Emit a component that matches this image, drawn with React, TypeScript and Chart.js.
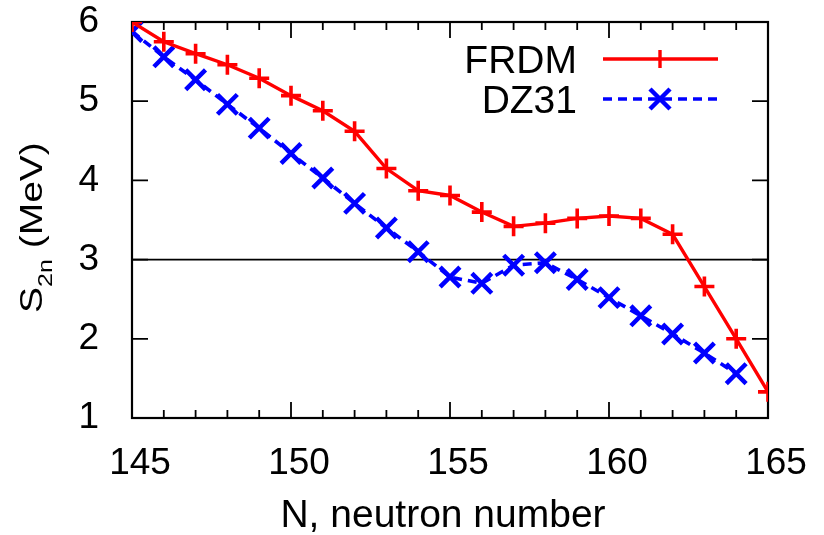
import React, { useEffect, useRef } from "react";
import { Chart, registerables } from "chart.js";

Chart.register(...registerables);

// ---- data ----
const neutronNumbers = [145, 146, 147, 148, 149, 150, 151, 152, 153, 154, 155, 156, 157, 158, 159, 160, 161, 162, 163, 164, 165];
const frdmValues = [6.0, 5.75, 5.6, 5.46, 5.29, 5.07, 4.88, 4.62, 4.15, 3.87, 3.81, 3.6, 3.42, 3.46, 3.52, 3.55, 3.52, 3.32, 2.66, 2.0, 1.33];
const dz31Values = [5.88, 5.56, 5.27, 4.96, 4.66, 4.34, 4.03, 3.71, 3.4, 3.1, 2.78, 2.7, 2.93, 2.96, 2.75, 2.52, 2.29, 2.06, 1.82, 1.56];
const seriesLabels = ["FRDM", "DZ31"];
const xTickValues = [145, 150, 155, 160, 165];
const yTickValues = [1, 2, 3, 4, 5, 6];
const referenceLevel = 3;
const xTitle = "N, neutron number";
const yTitleMain = "S";
const yTitleSub = "2n";
const yTitleRest = " (MeV)";

const FONT = "'Liberation Sans', Arial, Helvetica, sans-serif";
const RED = "#ff0000";
const BLUE = "#0000ff";

const framePlugin = {
  id: "framePlugin",
  beforeDatasetsDraw(chart: any) {
    const { ctx, chartArea } = chart;
    const xs = chart.scales.x;
    const ys = chart.scales.y;
    const { left, right, top, bottom } = chartArea;
    ctx.save();
    // reference line
    const yRef = ys.getPixelForValue(referenceLevel);
    ctx.strokeStyle = "#000";
    ctx.lineWidth = 1.6;
    ctx.beginPath();
    ctx.moveTo(left, yRef);
    ctx.lineTo(right, yRef);
    ctx.stroke();
    // frame
    ctx.lineWidth = 2.2;
    ctx.strokeRect(left, top, right - left, bottom - top);
    // x ticks (major every 5, minor every 1), on bottom and top
    ctx.lineWidth = 1.8;
    const xmin = xs.min, xmax = xs.max;
    for (let v = xmin; v <= xmax; v++) {
      const px = xs.getPixelForValue(v);
      const len = xTickValues.includes(v) ? 16 : 8;
      ctx.beginPath();
      ctx.moveTo(px, bottom);
      ctx.lineTo(px, bottom - len);
      ctx.moveTo(px, top);
      ctx.lineTo(px, top + len);
      ctx.stroke();
    }
    for (const v of yTickValues) {
      const py = ys.getPixelForValue(v);
      ctx.beginPath();
      ctx.moveTo(left, py);
      ctx.lineTo(left + 16, py);
      ctx.moveTo(right, py);
      ctx.lineTo(right - 16, py);
      ctx.stroke();
    }
    ctx.restore();
  },
  afterDraw(chart: any) {
    const { ctx, chartArea } = chart;
    ctx.save();
    ctx.fillStyle = "#000";
    // x title
    ctx.font = `39px ${FONT}`;
    ctx.textAlign = "center";
    ctx.textBaseline = "alphabetic";
    ctx.fillText(xTitle, (chartArea.left + chartArea.right) / 2 - 7, 527);
    // y title (rotated, with subscript)
    ctx.translate(42, 313);
    ctx.rotate(-Math.PI / 2);
    ctx.scale(1, 0.8);
    ctx.textAlign = "left";
    ctx.font = `39px ${FONT}`;
    ctx.fillText(yTitleMain, 0, 0);
    let x = ctx.measureText(yTitleMain).width;
    ctx.font = `25px ${FONT}`;
    ctx.fillText(yTitleSub, x, 12);
    x += ctx.measureText(yTitleSub).width;
    ctx.font = `39px ${FONT}`;
    ctx.fillText(yTitleRest, x, 0);
    ctx.restore();

    // legend
    ctx.save();
    ctx.font = `39px ${FONT}`;
    ctx.textAlign = "right";
    ctx.textBaseline = "alphabetic";
    ctx.fillStyle = "#000";
    const textRight = 577;
    const lineL = 603, lineR = 718, mark = 660;
    // FRDM
    ctx.fillText(seriesLabels[0], textRight, 73);
    ctx.strokeStyle = RED;
    ctx.lineWidth = 3.4;
    ctx.beginPath();
    ctx.moveTo(lineL, 59);
    ctx.lineTo(lineR, 59);
    ctx.moveTo(mark, 50);
    ctx.lineTo(mark, 68);
    ctx.stroke();
    // DZ31
    ctx.fillText(seriesLabels[1], textRight, 113);
    ctx.strokeStyle = BLUE;
    ctx.lineWidth = 3.6;
    ctx.setLineDash([9, 6]);
    ctx.beginPath();
    ctx.moveTo(lineL, 99);
    ctx.lineTo(lineR, 99);
    ctx.stroke();
    ctx.setLineDash([]);
    ctx.lineWidth = 4.5;
    ctx.beginPath();
    ctx.moveTo(mark - 10, 89);
    ctx.lineTo(mark + 10, 109);
    ctx.moveTo(mark + 10, 89);
    ctx.lineTo(mark - 10, 109);
    ctx.stroke();
    ctx.restore();
  },
};

export default function App() {
  const canvasRef = useRef<HTMLCanvasElement | null>(null);

  useEffect(() => {
    if (!canvasRef.current) return;
    const frdmData = neutronNumbers.map((n, i) => ({ x: n, y: frdmValues[i] }));
    const dzData = dz31Values.map((v, i) => ({ x: neutronNumbers[i], y: v }));
    const chart = new Chart(canvasRef.current, {
      type: "line",
      data: {
        datasets: [
          {
            label: seriesLabels[0],
            data: frdmData,
            borderColor: RED,
            backgroundColor: RED,
            borderWidth: 3.4,
            pointStyle: "cross",
            pointRadius: 10,
            pointBorderWidth: 3.6,
            pointBorderColor: RED,
            tension: 0,
            fill: false,
          },
          {
            label: seriesLabels[1],
            data: dzData,
            borderColor: BLUE,
            backgroundColor: BLUE,
            borderWidth: 3.6,
            borderDash: [9, 6],
            pointStyle: "crossRot",
            pointRadius: 14,
            pointBorderWidth: 4.5,
            pointBorderColor: BLUE,
            tension: 0,
            fill: false,
          },
        ],
      },
      options: {
        animation: false,
        responsive: false,
        devicePixelRatio: 1,
        layout: { padding: { top: 0, right: 56, bottom: 0, left: 0 } },
        plugins: {
          legend: { display: false },
          tooltip: { enabled: false },
          title: { display: false },
        },
        scales: {
          x: {
            type: "linear",
            min: 145,
            max: 165,
            grid: { display: false },
            border: { display: false },
            afterFit: (s: any) => {
              s.height = 117;
              s.paddingLeft = 0;
              s.paddingRight = 0;
            },
            afterBuildTicks: (s: any) => {
              s.ticks = xTickValues.map((v) => ({ value: v }));
            },
            ticks: {
              font: { family: FONT, size: 37 },
              color: "#000",
              padding: 16,
              labelOffset: 8,
              maxRotation: 0,
              autoSkip: false,
            },
          },
          y: {
            type: "linear",
            min: 1,
            max: 6,
            grid: { display: false },
            border: { display: false },
            afterFit: (s: any) => {
              s.width = 132;
              s.paddingTop = 22;
              s.paddingBottom = 0;
            },
            afterBuildTicks: (s: any) => {
              s.ticks = yTickValues.map((v) => ({ value: v }));
            },
            ticks: {
              font: { family: FONT, size: 37 },
              color: "#000",
              padding: 25,
              autoSkip: false,
            },
          },
        },
      },
      plugins: [framePlugin],
    });
    return () => chart.destroy();
  }, []);

  return (
    <div style={{ position: "fixed", left: 0, top: 0, width: 824, height: 535, background: "#fff" }}>
      <canvas ref={canvasRef} width={824} height={535} />
    </div>
  );
}
